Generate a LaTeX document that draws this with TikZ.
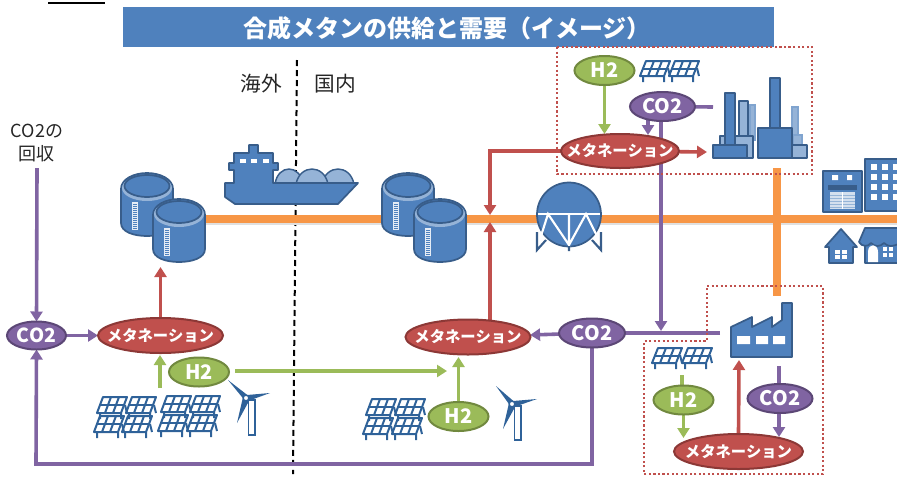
\documentclass[tikz,border=0pt]{standalone}
\usepackage{fontspec}
\setmainfont{Noto Sans CJK JP}
\usetikzlibrary{arrows.meta,shapes.geometric}
\definecolor{iblue}{HTML}{4F81BD}
\definecolor{dblue}{HTML}{385D8A}
\definecolor{lblue}{HTML}{95B3D7}
\definecolor{lineblue}{HTML}{2F6299}
\definecolor{igreen}{HTML}{9BBB59}
\definecolor{dgreen}{HTML}{71893F}
\definecolor{ipurple}{HTML}{8064A2}
\definecolor{dpurple}{HTML}{5C4776}
\definecolor{ired}{HTML}{C0504D}
\definecolor{dred}{HTML}{8C3836}
\definecolor{iorange}{HTML}{F79646}
\pgfdeclarelayer{bg}
\pgfsetlayers{bg,main}
\newcommand{\methlabel}{\makebox[0pt][c]{メタネーション}}
\tikzset{
  x=0.75pt,y=-0.75pt,
  oval/.style={ellipse,inner sep=0pt,outer sep=0pt,line width=1.5pt,text=white,font=\bfseries},
  h2oval/.style={oval,fill=igreen,draw=dgreen,minimum width=60*0.75pt,minimum height=29*0.75pt,font=\bfseries\fontsize{15}{15}\selectfont},
  co2small/.style={oval,fill=ipurple,draw=dpurple,minimum width=59*0.75pt,minimum height=28*0.75pt,font=\bfseries\fontsize{14.5}{15}\selectfont},
  co2oval/.style={oval,fill=ipurple,draw=dpurple,minimum width=65*0.75pt,minimum height=29*0.75pt,font=\bfseries\fontsize{15}{15}\selectfont},
  methoval/.style={oval,fill=ired,draw=dred,minimum width=125*0.75pt,minimum height=35*0.75pt,font=\bfseries\fontsize{11.5}{12}\selectfont},
  conn/.style={line width=2.7pt,-{Triangle[length=7.5pt,width=9pt]}},
  plain/.style={line width=2.7pt},
  purplearrow/.style={conn,draw=ipurple},
  redarrow/.style={conn,draw=ired},
  greenarrow/.style={conn,draw=igreen},
  purpleline/.style={plain,draw=ipurple},
  pipeline/.style={line width=5.6pt,draw=iorange},
  pipeshadow/.style={line width=5.6pt,draw=black!12},
  border/.style={draw=ired,line width=1.6pt,dash pattern=on 1.6pt off 1.8pt},
  icon/.style={fill=iblue,draw=dblue,line width=1.3pt,line join=round},
  lighticon/.style={fill=lblue,draw=lblue!70!iblue,line width=1.1pt},
  whitefill/.style={fill=white,draw=none},
  lbl/.style={font=\fontsize{15.5}{16}\selectfont,text=black!85},
  panelline/.style={draw=lineblue,line width=1.5pt,line join=round},
}
\newcommand{\tankicon}[2]{%
  \begin{scope}[shift={(#1,#2)}]
    \path[icon] (-26,16) -- (-26,50) .. controls (-26,59) and (-13,63) .. (0,63)
       .. controls (13,63) and (26,59) .. (26,50) -- (26,16)
       .. controls (26,6) and (13,0) .. (0,0) .. controls (-13,0) and (-26,6) .. (-26,16) -- cycle;
    \path[fill=lblue] (0,15) ellipse [x radius=25,y radius=13];
    \path[icon] (0,13) ellipse [x radius=22.5,y radius=11];
    \path[fill=white!85!iblue] (-15,29) rectangle (-9,57);
    \foreach \yy in {31,33,...,56} {\draw[iblue,line width=0.35pt] (-14,\yy) -- (-10,\yy);}
  \end{scope}}
\newcommand{\panelicon}[3]{%
  \begin{scope}[shift={(#1,#2)}]
    \draw[panelline] (0,0) -- (24,0) -- (30,-#3) -- (6,-#3) -- cycle;
    \draw[panelline] (3,-#3/2) -- (27,-#3/2);
    \draw[panelline] (8,0) -- (14,-#3) (16,0) -- (22,-#3);
    \draw[panelline] (3,0) -- (3,6) (24,0) -- (24,6) (28,-8) -- (30,0);
  \end{scope}}
\newcommand{\turbineicon}[7]{%
  \path[fill=white,draw=lineblue,line width=1.3pt] (#1-3.5,#2+2) rectangle (#1+3,#7);
  \fill[lineblue,line join=round] (#1-8,#2+1.5) -- (#3,#4) -- (#1-4,#2-2.5) -- cycle;
  \fill[lineblue] (#1-5,#2-3) -- (#5,#6) -- (#1-4,#2+3) -- cycle;
  \fill[lineblue] (#1-9,#2-1) -- (#1-15,#2+25) -- (#1-3,#2+3) -- cycle;
  \path[fill=white,draw=lineblue,line width=1pt] (#1-6,#2) circle [radius=2.8];
}
\begin{document}
\begin{tikzpicture}
\useasboundingbox (0,0) rectangle (897,476);
\fill[black] (48,1.5) rectangle (105,3.5);
% title
\path[fill=iblue] (123,7) rectangle (774,47);
\node (title) at (447,28) [text=white,font=\bfseries\fontsize{18}{18}\selectfont,inner sep=0pt] {合成メタンの供給と需要（イメージ）};
% labels
\node (abroad) at (261,84) [lbl,inner sep=0pt] {海外};
\node (domestic) at (335,84) [lbl,inner sep=0pt] {国内};
\node (capture) at (37,143) [lbl,inner sep=0pt,align=center,font=\fontsize{13.5}{17}\selectfont] {CO2の\\回収};
% ship
\begin{scope}
  \path[lighticon,draw=dblue] (275,184) .. controls (278,164) and (300,164) .. (303,184) -- cycle;
  \path[lighticon,draw=dblue] (322,184) .. controls (326,164) and (350,164) .. (354,184) -- cycle;
  \path[lighticon,draw=dblue] (296,184) .. controls (300,164) and (324,164) .. (328,184) -- cycle;
  \path[icon] (225,183) -- (225,197) -- (235,204) -- (338,204) -- (358,183) -- (273,183) -- (273,170) -- (278,170) -- (278,163) -- (273,163) -- (273,153) -- (258,153) -- (258,145) -- (249,145) -- (249,153) -- (234,153) -- (234,163) -- (229,163) -- (229,170) -- (234,170) -- (234,183) -- cycle;
  \foreach \wx in {240,251,263} {\path[whitefill] (\wx,159) rectangle (\wx+6,162.5);}
\end{scope}
% tanks
\tankicon{147}{173}
\tankicon{179}{199}
\tankicon{408}{173}
\tankicon{440}{199}
% spherical tank
\path[icon] (569,214.5) circle [radius=32];
\draw[white,line width=2.2pt] (538,214) -- (600,214);
\draw[white,line width=1.6pt] (541,236) -- (548,214) -- (569,245) -- (569,214) (569,245) -- (586,214) -- (597,236);
\draw[dblue,line width=1.6pt] (537,232) -- (537,250) -- (546,240) (601,232) -- (601,250) -- (592,240) (569,246) -- (569,251);
% buildings
\path[icon] (823,171) rectangle (862,212);
\path[whitefill] (832,175) rectangle (838,180) (847,175) rectangle (852,180);
\path[fill=dblue] (828,185) rectangle (857,190);
\path[fill=white!75!iblue] (830,192) rectangle (855,209);
\foreach \yy in {195,198,...,207} {\draw[iblue!60,line width=0.5pt] (830,\yy) -- (855,\yy);}
\draw[white,line width=0.8pt] (842.5,192) -- (842.5,209);
\path[icon] (865,159) rectangle (900,211);
\foreach \yy in {164,174,184,194} {\foreach \xx in {871,882,893} {\path[whitefill] (\xx,\yy) rectangle (\xx+6,\yy+6);}}
% houses
\path[icon] (841,229) -- (825,247) -- (829,247) -- (829,263) -- (853,263) -- (853,247) -- (857,247) -- cycle;
\path[whitefill] (835,250) rectangle (847,259);
\draw[iblue,line width=0.8pt] (841,250) -- (841,259) (835,254.5) -- (847,254.5);
\path[icon] (865,263) -- (865,242) -- (900,242) -- (900,263) -- cycle;
\path[icon] (865,228) -- (859,242) .. controls (862,247) and (868,247) .. (871,243) .. controls (875,247) and (880,247) .. (884,243) .. controls (888,247) and (893,247) .. (900,243) -- (900,228) -- cycle;
\path[whitefill] (868,262) -- (868,252) .. controls (868,243) and (878,243) .. (878,252) -- (878,262) -- cycle;
\path[whitefill] (883,247) rectangle (893,257);
\draw[iblue,line width=0.8pt] (888,247) -- (888,257) (883,252) -- (893,252);
% plant
\path[lighticon] (750,105) rectangle (755,140);
\path[lighticon] (792,107) rectangle (798,137);
\path[lighticon] (793,135) rectangle (802,145);
\path[icon,fill=lblue] (739,101) rectangle (748,137);
\path[icon,fill=lblue] (720,136) rectangle (753,158);
\path[icon] (725,93) rectangle (735,145);
\path[icon] (713,145) rectangle (747,158);
\path[icon,fill=lblue] (792,145) rectangle (807,158);
\path[icon] (770,78) rectangle (780,128);
\path[icon] (758,128) rectangle (792,158);
% factory
\path[icon] (731,327) -- (752,317) -- (752,327) -- (772,317) -- (772,327) -- (782,320) -- (782,303) -- (792,303) -- (792,357) -- (731,357) -- cycle;
\path[whitefill] (737,336) rectangle (750,344) (756,336) rectangle (768,344) (773,336) rectangle (785,344);
% solar panels
\panelicon{97}{413}{16}\panelicon{126}{413}{16}\panelicon{161}{412}{16}\panelicon{190}{412}{16}
\panelicon{94}{432}{16}\panelicon{122}{432}{16}\panelicon{158}{431}{16}\panelicon{187}{431}{16}
\panelicon{366}{415}{16}\panelicon{395}{415}{16}\panelicon{363}{434}{16}\panelicon{392}{434}{16}
\panelicon{640}{76}{15}\panelicon{669}{76}{15}
\panelicon{652}{363}{15}\panelicon{682}{363}{15}
% turbines
\turbineicon{252}{398}{228}{380}{270}{393}{435}
\turbineicon{518}{404}{496}{386}{537}{399}{440}
% process nodes
\node[co2small] (co2a) at (36.5,335.5) {CO2};
\node[methoval] (metha) at (160.5,335.5) {\methlabel};
\node[h2oval] (h2a) at (199,372) {H2};
\node[methoval] (methb) at (468,337) {\methlabel};
\node[co2oval,minimum width=66*0.75pt] (co2b) at (592,333) {CO2};
\node[h2oval] (h2b) at (458.5,416.5) {H2};
\node[h2oval] (h2c) at (604.5,70.5) {H2};
\node[co2oval] (co2c) at (662.5,106.5) {CO2};
\node[methoval,minimum width=118*0.75pt,minimum height=34*0.75pt] (methc) at (620,151) {\methlabel};
\node[h2oval] (h2d) at (683.5,400) {H2};
\node[co2oval] (co2d) at (780,398.5) {CO2};
\node[methoval,minimum width=129*0.75pt] (methd) at (738.5,451.5) {\methlabel};
% free ends
\coordinate (capturefoot) at (37,168);
\coordinate (tankfoot) at (160.5,267);
\coordinate (solarup) at (160,388);
\coordinate (h2start) at (235,371);
\coordinate (h2end) at (447,371);
\coordinate (factoryout) at (720,333);
\coordinate (junction) at (661,331);
\coordinate (co2cdrop) at (661,120);
\coordinate (plantin) at (707,152);
\coordinate (plantco2) at (713,107);
\coordinate (redcorner) at (490,151);
\coordinate (pipetop) at (490,215);
\coordinate (pipebottom) at (490,222);
\coordinate (factoryfoot) at (739,360);
\coordinate (factoryco2) at (779,366);
\coordinate (solarfoot) at (682,375);
\coordinate (bottomright) at (592,464);
\coordinate (bottomleft) at (36,464);
\coordinate (pipewest) at (205,219);
\coordinate (pipeeast) at (900,219);
\coordinate (shadowwest) at (205,221);
\coordinate (shadoweast) at (900,221);
\coordinate (plantfoot) at (777,168);
\coordinate (factorytop) at (777,296);
\coordinate (dashtop) at (297,60);
\coordinate (dashbottom) at (293,474);
\begin{pgfonlayer}{bg}
  \draw[black,line width=1.5pt,dash pattern=on 4.5pt off 3pt] (dashtop) -- (dashbottom);
  \draw[pipeshadow] (shadowwest) -- (shadoweast);
  \draw[pipeline] (pipewest) -- (pipeeast);
  \draw[pipeline] (plantfoot) -- (factorytop);
  % purple
  \draw[purplearrow] (capturefoot) -- (co2a.north);
  \draw[purplearrow] (co2a) -- (metha);
  \draw[purplearrow] (co2b.south) -- (bottomright) -- (bottomleft) -- (co2a.south);
  \draw[purplearrow] (co2b) -- (methb);
  \draw[purpleline] (factoryout) -- (co2b);
  \draw[purplearrow] (co2cdrop) -- (junction);
  \draw[purplearrow] (648,118) -- (648,135);
  \draw[purpleline] (co2c) -- (plantco2);
  \draw[purpleline] (factoryco2) -- (co2d.north -| factoryco2);
  \draw[purplearrow] (co2d.south -| factoryco2) -- (779,437);
  % red
  \draw[redarrow] (metha.north) -- (tankfoot);
  \draw[redarrow] (methc) -- (plantin);
  \draw[redarrow] (methc) -- (redcorner) -- (pipetop);
  \draw[redarrow] (490,325) -- (pipebottom);
  \draw[redarrow] (methd.north) -- (factoryfoot);
  % green
  \draw[greenarrow] (solarup) -- (160,355);
  \draw[greenarrow] (h2start) -- (h2end);
  \draw[greenarrow] (h2b.north) -- (458.5,357);
  \draw[greenarrow] (h2c.south) -- (604.5,134);
  \draw[plain,draw=igreen] (solarfoot) -- (682,388);
  \draw[greenarrow] (h2d.south) -- (683.5,438);
\end{pgfonlayer}
% dotted outlines
\path[border] (557,47) rectangle (812,174);
\path[border] (707,286) -- (823,286) -- (823,474) -- (644,474) -- (644,341) -- (707,341) -- cycle;
\end{tikzpicture}
\end{document}
